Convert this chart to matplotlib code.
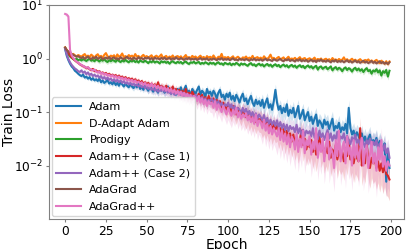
import numpy as np
import matplotlib
matplotlib.use("Agg")
import matplotlib.pyplot as plt

epochs = np.arange(200)

labels = ["Adam", "D-Adapt Adam", "Prodigy", "Adam++ (Case 1)", "Adam++ (Case 2)", "AdaGrad", "AdaGrad++"]

adam = [
    1.50, 1.12, 0.93, 0.80, 0.71, 0.66, 0.59, 0.56, 0.52, 0.49,
    0.47, 0.50, 0.44, 0.46, 0.42, 0.45, 0.40, 0.43, 0.39, 0.41,
    0.38, 0.42, 0.36, 0.39, 0.35, 0.37, 0.40, 0.34, 0.36, 0.33,
    0.37, 0.32, 0.35, 0.31, 0.36, 0.33, 0.30, 0.34, 0.31, 0.29,
    0.33, 0.30, 0.28, 0.32, 0.29, 0.34, 0.27, 0.30, 0.26, 0.31,
    0.28, 0.25, 0.30, 0.27, 0.24, 0.29, 0.26, 0.23, 0.31, 0.25,
    0.27, 0.23, 0.26, 0.30, 0.24, 0.22, 0.28, 0.25, 0.21, 0.27,
    0.24, 0.29, 0.22, 0.26, 0.31, 0.23, 0.25, 0.20, 0.27, 0.24,
    0.22, 0.26, 0.30, 0.21, 0.25, 0.23, 0.19, 0.27, 0.22, 0.24,
    0.20, 0.25, 0.22, 0.18, 0.23, 0.26, 0.19, 0.21, 0.17, 0.22,
    0.19, 0.23, 0.17, 0.20, 0.16, 0.21, 0.18, 0.15, 0.19, 0.22,
    0.16, 0.18, 0.14, 0.17, 0.20, 0.15, 0.13, 0.17, 0.14, 0.16,
    0.13, 0.17, 0.12, 0.15, 0.18, 0.12, 0.14, 0.11, 0.16, 0.26,
    0.15, 0.11, 0.13, 0.095, 0.12, 0.10, 0.14, 0.085, 0.11, 0.095,
    0.12, 0.08, 0.10, 0.13, 0.075, 0.09, 0.11, 0.07, 0.085, 0.10,
    0.068, 0.082, 0.06, 0.075, 0.09, 0.055, 0.07, 0.062, 0.05, 0.072,
    0.058, 0.066, 0.048, 0.06, 0.075, 0.045, 0.055, 0.05, 0.063, 0.042,
    0.052, 0.046, 0.06, 0.04, 0.12, 0.05, 0.038, 0.045, 0.034, 0.042,
    0.036, 0.03, 0.04, 0.028, 0.035, 0.026, 0.032, 0.038, 0.025, 0.03,
    0.027, 0.033, 0.022, 0.029, 0.024, 0.02, 0.026, 0.005, 0.018, 0.009,
]

dadapt_adam = [
    1.62, 1.45, 1.33, 1.25, 1.18, 1.22, 1.14, 1.10, 1.16, 1.12,
    1.08, 1.15, 1.21, 1.09, 1.13, 1.06, 1.18, 1.11, 1.04, 1.14,
    1.20, 1.07, 1.12, 1.03, 1.17, 1.26, 1.10, 1.05, 1.13, 1.09,
    1.15, 1.02, 1.19, 1.08, 1.12, 1.24, 1.06, 1.11, 1.03, 1.16,
    1.09, 1.13, 1.05, 1.21, 1.08, 1.12, 1.01, 1.10, 1.17, 1.06,
    1.11, 1.04, 1.09, 1.15, 1.02, 1.08, 1.13, 1.05, 1.10, 1.19,
    1.03, 1.07, 1.12, 1.00, 1.09, 1.05, 1.14, 1.02, 1.08, 1.11,
    1.04, 1.10, 0.99, 1.07, 1.16, 1.03, 1.06, 1.01, 1.12, 1.05,
    1.09, 1.00, 1.06, 1.13, 1.02, 1.07, 0.98, 1.11, 1.04, 1.08,
    1.01, 1.14, 1.03, 0.97, 1.08, 1.05, 1.22, 1.00, 1.06, 1.02,
    1.07, 0.99, 1.04, 1.10, 0.97, 1.03, 1.08, 1.01, 0.96, 1.05,
    1.02, 1.09, 0.98, 1.04, 1.00, 1.12, 0.97, 1.03, 1.06, 0.99,
    1.04, 0.96, 1.10, 1.01, 0.98, 1.05, 1.18, 0.99, 1.03, 0.95,
    1.02, 1.07, 0.97, 1.00, 1.05, 0.94, 1.01, 1.08, 0.96, 1.00,
    0.97, 1.03, 0.94, 1.00, 1.06, 0.95, 0.99, 1.02, 0.93, 0.98,
    1.01, 0.94, 0.97, 1.04, 0.92, 0.98, 0.95, 1.00, 0.91, 0.96,
    0.99, 0.93, 0.97, 0.90, 1.02, 0.94, 0.96, 0.91, 0.98, 0.93,
    0.95, 1.05, 0.92, 0.97, 0.89, 0.94, 0.99, 0.91, 0.95, 0.88,
    0.93, 0.97, 0.90, 0.86, 0.94, 0.91, 0.96, 0.88, 0.92, 0.85,
    0.90, 0.94, 0.87, 0.82, 0.91, 0.86, 0.80, 0.89, 0.78, 0.88,
]

prodigy = [
    1.58, 1.32, 1.18, 1.09, 1.03, 0.98, 0.95, 0.99, 0.93, 0.96,
    0.92, 0.97, 0.94, 0.90, 0.95, 0.99, 0.91, 0.94, 0.89, 0.96,
    0.93, 0.88, 0.95, 0.91, 0.97, 0.90, 0.86, 0.93, 0.89, 0.94,
    0.91, 0.87, 0.95, 0.90, 0.86, 0.92, 0.88, 0.94, 0.89, 0.85,
    0.91, 0.88, 0.93, 0.86, 0.90, 0.84, 0.92, 0.88, 0.86, 0.91,
    0.87, 0.82, 0.89, 0.85, 0.91, 0.84, 0.88, 0.86, 0.81, 0.89,
    0.85, 0.88, 0.83, 0.87, 0.80, 0.86, 0.89, 0.84, 0.82, 0.87,
    0.83, 0.86, 0.80, 0.85, 0.88, 0.82, 0.79, 0.85, 0.83, 0.87,
    0.81, 0.84, 0.86, 0.79, 0.83, 0.80, 0.85, 0.82, 0.78, 0.84,
    0.80, 0.83, 0.77, 0.82, 0.85, 0.79, 0.81, 0.76, 0.83, 0.80,
    0.78, 0.82, 0.75, 0.80, 0.77, 0.83, 0.79, 0.74, 0.81, 0.77,
    0.80, 0.76, 0.73, 0.79, 0.82, 0.75, 0.78, 0.72, 0.77, 0.80,
    0.74, 0.78, 0.71, 0.76, 0.79, 0.73, 0.77, 0.70, 0.75, 0.78,
    0.72, 0.76, 0.69, 0.74, 0.77, 0.71, 0.75, 0.68, 0.73, 0.76,
    0.70, 0.74, 0.67, 0.72, 0.75, 0.69, 0.73, 0.66, 0.71, 0.74,
    0.68, 0.72, 0.65, 0.70, 0.73, 0.62, 0.69, 0.71, 0.64, 0.68,
    0.70, 0.63, 0.67, 0.71, 0.60, 0.66, 0.69, 0.62, 0.67, 0.64,
    0.58, 0.65, 0.68, 0.61, 0.66, 0.63, 0.57, 0.64, 0.67, 0.60,
    0.65, 0.59, 0.63, 0.56, 0.62, 0.66, 0.58, 0.61, 0.52, 0.60,
    0.57, 0.63, 0.55, 0.60, 0.48, 0.58, 0.54, 0.61, 0.46, 0.59,
]

adampp_case1 = [
    1.58, 1.42, 1.28, 1.15, 1.05, 0.98, 0.92, 0.87, 0.83, 0.78,
    0.75, 0.72, 0.70, 0.66, 0.68, 0.63, 0.61, 0.64, 0.58, 0.60,
    0.56, 0.58, 0.53, 0.55, 0.51, 0.54, 0.49, 0.52, 0.48, 0.50,
    0.47, 0.49, 0.45, 0.48, 0.44, 0.46, 0.42, 0.45, 0.41, 0.43,
    0.40, 0.42, 0.38, 0.41, 0.37, 0.39, 0.35, 0.38, 0.34, 0.36,
    0.33, 0.35, 0.31, 0.34, 0.30, 0.33, 0.29, 0.36, 0.28, 0.31,
    0.29, 0.27, 0.31, 0.26, 0.28, 0.25, 0.30, 0.24, 0.27, 0.23,
    0.26, 0.22, 0.25, 0.21, 0.27, 0.20, 0.23, 0.19, 0.24, 0.21,
    0.20, 0.18, 0.22, 0.17, 0.21, 0.16, 0.19, 0.15, 0.20, 0.17,
    0.16, 0.18, 0.14, 0.17, 0.13, 0.16, 0.12, 0.15, 0.13, 0.11,
    0.14, 0.12, 0.10, 0.13, 0.11, 0.09, 0.12, 0.10, 0.085, 0.11,
    0.095, 0.08, 0.10, 0.075, 0.09, 0.07, 0.085, 0.065, 0.08, 0.07,
    0.075, 0.06, 0.07, 0.055, 0.068, 0.05, 0.062, 0.045, 0.058, 0.048,
    0.055, 0.04, 0.05, 0.036, 0.048, 0.032, 0.045, 0.03, 0.04, 0.028,
    0.038, 0.025, 0.034, 0.022, 0.03, 0.045, 0.024, 0.032, 0.02, 0.028,
    0.022, 0.03, 0.018, 0.026, 0.016, 0.024, 0.035, 0.019, 0.025, 0.015,
    0.022, 0.017, 0.028, 0.014, 0.02, 0.016, 0.024, 0.013, 0.019, 0.015,
    0.018, 0.012, 0.021, 0.015, 0.03, 0.013, 0.017, 0.011, 0.016, 0.014,
    0.012, 0.05, 0.01, 0.015, 0.011, 0.025, 0.013, 0.009, 0.014, 0.011,
    0.013, 0.009, 0.012, 0.008, 0.011, 0.0075, 0.01, 0.007, 0.0065, 0.0055,
]

adampp_case2 = [
    1.52, 1.20, 0.98, 0.85, 0.76, 0.70, 0.65, 0.62, 0.58, 0.56,
    0.60, 0.54, 0.57, 0.51, 0.55, 0.49, 0.52, 0.47, 0.50, 0.46,
    0.48, 0.44, 0.47, 0.42, 0.45, 0.41, 0.44, 0.40, 0.42, 0.38,
    0.41, 0.37, 0.40, 0.36, 0.39, 0.35, 0.38, 0.34, 0.36, 0.33,
    0.35, 0.32, 0.34, 0.31, 0.33, 0.30, 0.32, 0.29, 0.31, 0.28,
    0.30, 0.27, 0.29, 0.26, 0.28, 0.25, 0.27, 0.24, 0.26, 0.25,
    0.27, 0.24, 0.26, 0.23, 0.25, 0.22, 0.24, 0.21, 0.23, 0.22,
    0.24, 0.21, 0.23, 0.20, 0.22, 0.19, 0.21, 0.18, 0.20, 0.19,
    0.21, 0.18, 0.20, 0.17, 0.19, 0.16, 0.18, 0.15, 0.17, 0.16,
    0.18, 0.15, 0.17, 0.14, 0.16, 0.13, 0.15, 0.12, 0.14, 0.13,
    0.15, 0.12, 0.14, 0.11, 0.13, 0.10, 0.12, 0.11, 0.095, 0.12,
    0.10, 0.115, 0.09, 0.105, 0.085, 0.10, 0.08, 0.095, 0.075, 0.09,
    0.08, 0.07, 0.088, 0.065, 0.078, 0.06, 0.072, 0.058, 0.068, 0.055,
    0.07, 0.052, 0.065, 0.05, 0.06, 0.046, 0.058, 0.044, 0.055, 0.048,
    0.052, 0.042, 0.058, 0.04, 0.05, 0.038, 0.047, 0.036, 0.045, 0.04,
    0.044, 0.035, 0.05, 0.033, 0.042, 0.031, 0.045, 0.034, 0.04, 0.03,
    0.038, 0.046, 0.032, 0.04, 0.029, 0.037, 0.031, 0.043, 0.028, 0.035,
    0.032, 0.04, 0.027, 0.036, 0.03, 0.025, 0.034, 0.028, 0.038, 0.026,
    0.031, 0.024, 0.033, 0.027, 0.022, 0.03, 0.025, 0.032, 0.021, 0.028,
    0.024, 0.03, 0.02, 0.026, 0.022, 0.019, 0.025, 0.017, 0.021, 0.014,
]

adagrad = [
    1.60, 1.42, 1.35, 1.28, 1.22, 1.17, 1.13, 1.08, 1.11, 1.05,
    1.02, 1.07, 0.99, 1.04, 1.09, 1.01, 0.97, 1.05, 1.00, 1.08,
    0.98, 1.03, 1.06, 0.96, 1.01, 1.04, 0.99, 1.07, 0.97, 1.02,
    1.05, 0.98, 1.01, 0.96, 1.06, 1.00, 0.97, 1.03, 1.08, 0.99,
    1.02, 0.95, 1.04, 1.00, 0.97, 1.06, 0.99, 1.02, 0.96, 1.03,
    1.00, 1.05, 0.97, 1.02, 0.95, 1.04, 0.99, 1.01, 0.96, 1.03,
    0.98, 1.04, 0.96, 1.00, 1.03, 0.95, 1.01, 0.97, 1.05, 0.99,
    0.96, 1.02, 0.98, 0.94, 1.01, 0.97, 1.03, 0.95, 0.99, 0.96,
    1.00, 0.94, 0.98, 1.02, 0.95, 0.99, 0.96, 1.01, 0.93, 0.98,
    0.95, 1.00, 0.97, 0.93, 0.99, 0.96, 1.02, 0.94, 0.98, 0.95,
    0.99, 0.93, 0.97, 1.01, 0.94, 0.96, 0.92, 0.99, 0.95, 0.97,
    0.93, 0.98, 0.95, 0.91, 0.97, 0.94, 1.00, 0.92, 0.96, 0.93,
    0.97, 0.91, 0.95, 0.99, 0.92, 0.96, 0.93, 0.90, 0.97, 0.94,
    0.91, 0.95, 0.98, 0.92, 0.89, 0.96, 0.93, 0.97, 0.90, 0.94,
    0.92, 0.88, 0.95, 0.91, 0.97, 0.89, 0.93, 0.90, 0.94, 0.87,
    0.91, 0.95, 0.88, 0.92, 0.86, 0.93, 0.90, 0.96, 0.88, 0.91,
    0.87, 0.93, 0.89, 0.85, 0.92, 0.88, 0.94, 0.86, 0.90, 0.87,
    0.91, 0.85, 0.89, 0.93, 0.86, 0.90, 0.84, 0.88, 0.92, 0.85,
    0.89, 0.83, 0.87, 0.91, 0.84, 0.88, 0.82, 0.86, 0.90, 0.83,
    0.87, 0.81, 0.85, 0.89, 0.82, 0.86, 0.80, 0.84, 0.79, 0.85,
]

adagradpp = [
    6.8, 6.6, 6.1, 1.45, 1.15, 1.02, 0.94, 0.88, 0.83, 0.79,
    0.76, 0.73, 0.70, 0.67, 0.69, 0.64, 0.62, 0.60, 0.62, 0.57,
    0.55, 0.57, 0.52, 0.54, 0.50, 0.52, 0.48, 0.50, 0.46, 0.49,
    0.45, 0.47, 0.43, 0.46, 0.42, 0.44, 0.40, 0.43, 0.39, 0.41,
    0.38, 0.40, 0.36, 0.39, 0.35, 0.37, 0.34, 0.36, 0.32, 0.35,
    0.31, 0.33, 0.30, 0.34, 0.29, 0.32, 0.28, 0.31, 0.27, 0.30,
    0.26, 0.29, 0.25, 0.28, 0.24, 0.27, 0.23, 0.26, 0.22, 0.25,
    0.21, 0.24, 0.20, 0.23, 0.19, 0.22, 0.18, 0.21, 0.17, 0.20,
    0.19, 0.16, 0.20, 0.15, 0.18, 0.14, 0.17, 0.13, 0.16, 0.14,
    0.15, 0.12, 0.16, 0.11, 0.14, 0.12, 0.10, 0.13, 0.11, 0.09,
    0.12, 0.10, 0.085, 0.11, 0.09, 0.12, 0.08, 0.10, 0.075, 0.09,
    0.08, 0.095, 0.07, 0.085, 0.065, 0.08, 0.06, 0.09, 0.055, 0.07,
    0.065, 0.05, 0.072, 0.045, 0.06, 0.04, 0.055, 0.038, 0.05, 0.042,
    0.035, 0.05, 0.03, 0.045, 0.028, 0.04, 0.025, 0.038, 0.022, 0.035,
    0.03, 0.02, 0.04, 0.018, 0.032, 0.022, 0.045, 0.017, 0.03, 0.024,
    0.035, 0.016, 0.028, 0.02, 0.05, 0.014, 0.026, 0.018, 0.032, 0.012,
    0.024, 0.04, 0.013, 0.022, 0.017, 0.009, 0.03, 0.015, 0.045, 0.012,
    0.02, 0.028, 0.011, 0.035, 0.016, 0.022, 0.01, 0.03, 0.014, 0.025,
    0.012, 0.02, 0.033, 0.01, 0.018, 0.024, 0.009, 0.016, 0.028, 0.011,
    0.017, 0.008, 0.022, 0.013, 0.03, 0.0095, 0.015, 0.008, 0.012, 0.01,
]

# relative spread (std / mean) per block of 10 epochs
adam_std = [0.06, 0.08, 0.10, 0.10, 0.12, 0.14, 0.15, 0.16, 0.18, 0.20,
            0.22, 0.25, 0.28, 0.30, 0.32, 0.35, 0.38, 0.40, 0.42, 0.45]
dadapt_std = [0.06, 0.08, 0.08, 0.07, 0.07, 0.06, 0.06, 0.06, 0.06, 0.06,
              0.06, 0.06, 0.06, 0.06, 0.07, 0.07, 0.07, 0.07, 0.08, 0.09]
prodigy_std = [0.06, 0.08, 0.10, 0.08, 0.07, 0.07, 0.07, 0.07, 0.07, 0.07,
               0.07, 0.07, 0.08, 0.08, 0.08, 0.09, 0.10, 0.10, 0.12, 0.14]
case1_std = [0.05, 0.07, 0.08, 0.10, 0.12, 0.15, 0.18, 0.22, 0.26, 0.30,
             0.35, 0.40, 0.45, 0.48, 0.50, 0.52, 0.55, 0.56, 0.58, 0.60]
case2_std = [0.06, 0.10, 0.12, 0.14, 0.15, 0.18, 0.20, 0.22, 0.25, 0.28,
             0.30, 0.32, 0.35, 0.38, 0.40, 0.42, 0.45, 0.45, 0.48, 0.50]
adagrad_std = [0.05, 0.06, 0.06, 0.06, 0.05, 0.05, 0.05, 0.05, 0.05, 0.05,
               0.05, 0.05, 0.05, 0.05, 0.06, 0.06, 0.06, 0.06, 0.07, 0.07]
adagradpp_std = [0.08, 0.08, 0.10, 0.12, 0.14, 0.16, 0.20, 0.25, 0.30, 0.35,
                 0.40, 0.45, 0.50, 0.55, 0.58, 0.62, 0.64, 0.66, 0.66, 0.68]

series = [adam, dadapt_adam, prodigy, adampp_case1, adampp_case2, adagrad, adagradpp]
spreads = [adam_std, dadapt_std, prodigy_std, case1_std, case2_std, adagrad_std, adagradpp_std]
colors = ["#1f77b4", "#ff7f0e", "#2ca02c", "#d62728", "#9467bd", "#8c564b", "#e377c2"]

fig = plt.figure(figsize=(4.07, 2.49), dpi=100)
ax = fig.add_axes([0.120, 0.120, 0.873, 0.860])

for vals, sp, c, lab in zip(series, spreads, colors, labels):
    m = np.asarray(vals, dtype=float)
    r = np.repeat(np.asarray(sp, dtype=float), 10)
    lo = m * (1 - r)
    hi = m * (1 + r)
    ax.fill_between(epochs, lo, hi, color=c, alpha=0.2, linewidth=0)
    ax.plot(epochs, m, color=c, lw=1.5, label=lab)

ax.set_yscale("log")
ax.set_ylim(1e-3, 10)
ax.set_xlim(-10, 208)
ax.set_xticks([0, 25, 50, 75, 100, 125, 150, 175, 200])
ax.set_yticks([1e-2, 1e-1, 1e0, 1e1])
ax.yaxis.set_minor_locator(matplotlib.ticker.NullLocator())
ax.tick_params(labelsize=8.8, length=2.5, pad=1.5, color="#808080")
ax.set_xlabel("Epoch", fontsize=10)
ax.set_ylabel("Train Loss", fontsize=10)
ax.xaxis.set_label_coords(0.5, -0.088)
ax.yaxis.set_label_coords(-0.093, 0.5)
for s in ax.spines.values():
    s.set_color("#808080")
ax.legend(loc="lower left", fontsize=8, handlelength=2.2, labelspacing=0.6,
          borderaxespad=0.25, framealpha=0.8, edgecolor="#cccccc")

fig.savefig("out.png", dpi=100)
